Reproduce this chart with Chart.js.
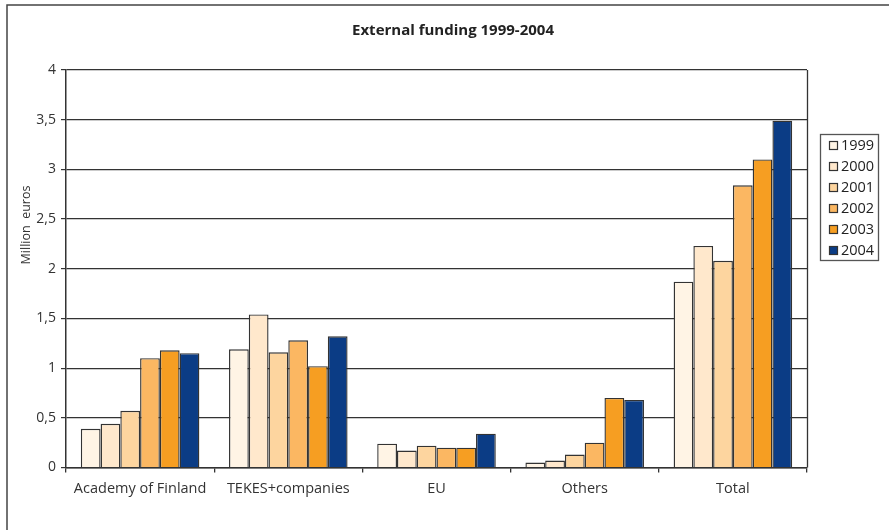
<!DOCTYPE html>
<html>
<head>
<meta charset="utf-8">
<script src="https://cdn.jsdelivr.net/npm/chart.js@4"></script>
<style>
  html, body { margin: 0; padding: 0; background: #fff; }
  #wrap { width: 889px; height: 530px; position: relative; }
</style>
</head>
<body>
<div id="wrap"><canvas id="fundingChart"></canvas></div>
<script>
// values (million euros)
var categories = [ "Academy of Finland", "TEKES+companies", "EU", "Others", "Total" ];
var years = [ "1999", "2000", "2001", "2002", "2003", "2004" ];
var v1999 = [ 0.39, 1.19, 0.24, 0.05, 1.87 ];
var v2000 = [ 0.44, 1.54, 0.17, 0.07, 2.23 ];
var v2001 = [ 0.57, 1.16, 0.22, 0.13, 2.08 ];
var v2002 = [ 1.10, 1.28, 0.20, 0.25, 2.84 ];
var v2003 = [ 1.18, 1.02, 0.20, 0.70, 3.10 ];
var v2004 = [ 1.15, 1.32, 0.34, 0.68, 3.49 ];
var yTicks = [ 0, 0.5, 1, 1.5, 2, 2.5, 3, 3.5, 4 ];

var seriesValues = [ v1999, v2000, v2001, v2002, v2003, v2004 ];
var seriesColors = [ "#fff4e5", "#ffe8cc", "#fdd59f", "#fbb762", "#f69e22", "#0b3c85" ];
var lineColor = "#333333";
var fontFamily = "'Open Sans', 'Noto Sans', sans-serif";

var datasets = [];
for ( var i = 0; i < years.length; i++ ) {
	datasets.push( {
		label: years[i],
		data: seriesValues[i],
		backgroundColor: seriesColors[i],
		borderColor: lineColor,
		borderWidth: 1.4,
		categoryPercentage: 0.8,
		barPercentage: 1.0
	} );
}

// frame, title, y title, right plot edge and the boxed legend
var decorations = {
	id: "decorations",
	afterDraw: function( chart ) {
		var ctx = chart.ctx;
		var area = chart.chartArea;
		ctx.save();

		// outer frame (only top and left visible in the crop)
		ctx.strokeStyle = "#444";
		ctx.lineWidth = 1.5;
		ctx.beginPath();
		ctx.moveTo( 7, 530 );
		ctx.lineTo( 7, 5 );
		ctx.lineTo( 889, 5 );
		ctx.stroke();

		// right edge of the plot area
		ctx.strokeStyle = lineColor;
		ctx.lineWidth = 1.3;
		ctx.beginPath();
		ctx.moveTo( Math.round( area.right ) + 0.5, area.top );
		ctx.lineTo( Math.round( area.right ) + 0.5, area.bottom );
		ctx.stroke();

		// title
		ctx.fillStyle = "#222";
		ctx.font = "bold 15px " + fontFamily;
		ctx.textAlign = "center";
		ctx.textBaseline = "middle";
		ctx.fillText( "External funding 1999-2004", 453, 31 );

		// y axis title
		ctx.save();
		ctx.translate( 26, 225 );
		ctx.rotate( -Math.PI / 2 );
		ctx.font = "12.5px " + fontFamily;
		ctx.fillStyle = "#333";
		ctx.fillText( "Million  euros", 0, 0 );
		ctx.restore();

		// legend
		var lx = 820, ly = 134, lw = 58, lh = 126;
		ctx.strokeStyle = "#555";
		ctx.lineWidth = 1.3;
		ctx.strokeRect( lx + 0.5, ly + 0.5, lw, lh );
		ctx.font = "14.5px " + fontFamily;
		ctx.textAlign = "left";
		chart.data.datasets.forEach( function( ds, idx ) {
			var cy = 145 + idx * 21;
			ctx.fillStyle = ds.backgroundColor;
			ctx.fillRect( 829, cy - 4, 8, 8 );
			ctx.strokeStyle = lineColor;
			ctx.lineWidth = 1.2;
			ctx.strokeRect( 829.5, cy - 3.5, 8, 8 );
			ctx.fillStyle = "#222";
			ctx.fillText( ds.label, 841, cy + 1 );
		} );

		ctx.restore();
	}
};

var fundingChart = new Chart( document.getElementById( "fundingChart" ).getContext( "2d" ), {
	type: "bar",
	data: {
		labels: categories,
		datasets: datasets
	},
	plugins: [ decorations ],
	options: {
		responsive: true,
		maintainAspectRatio: false,
		animation: false,
		layout: {
			padding: { left: 14, right: 82, top: 70, bottom: 0 }
		},
		plugins: {
			legend: { display: false },
			title: { display: false },
			tooltip: { enabled: false }
		},
		scales: {
			x: {
				afterFit: function( scale ) { scale.height = 62.5; },
				grid: {
					offset: true,
					drawOnChartArea: false,
					drawTicks: true,
					tickLength: 5,
					color: lineColor,
					lineWidth: 1.3
				},
				border: { color: lineColor, width: 1.5 },
				ticks: {
					color: "#333",
					padding: 8,
					maxRotation: 0,
					font: { family: fontFamily, size: 14.5 }
				}
			},
			y: {
				min: 0,
				max: 4,
				afterFit: function( scale ) { scale.width = 52; },
				afterBuildTicks: function( scale ) {
					scale.ticks = yTicks.map( function( v ) { return { value: v }; } );
				},
				grid: {
					color: lineColor,
					lineWidth: 1.2,
					tickLength: 5
				},
				border: { color: lineColor, width: 1.5 },
				ticks: {
					color: "#333",
					padding: 5,
					font: { family: fontFamily, size: 14 },
					callback: function( value ) {
						return String( value ).replace( ".", "," );
					}
				}
			}
		}
	}
} );
</script>
</body>
</html>
